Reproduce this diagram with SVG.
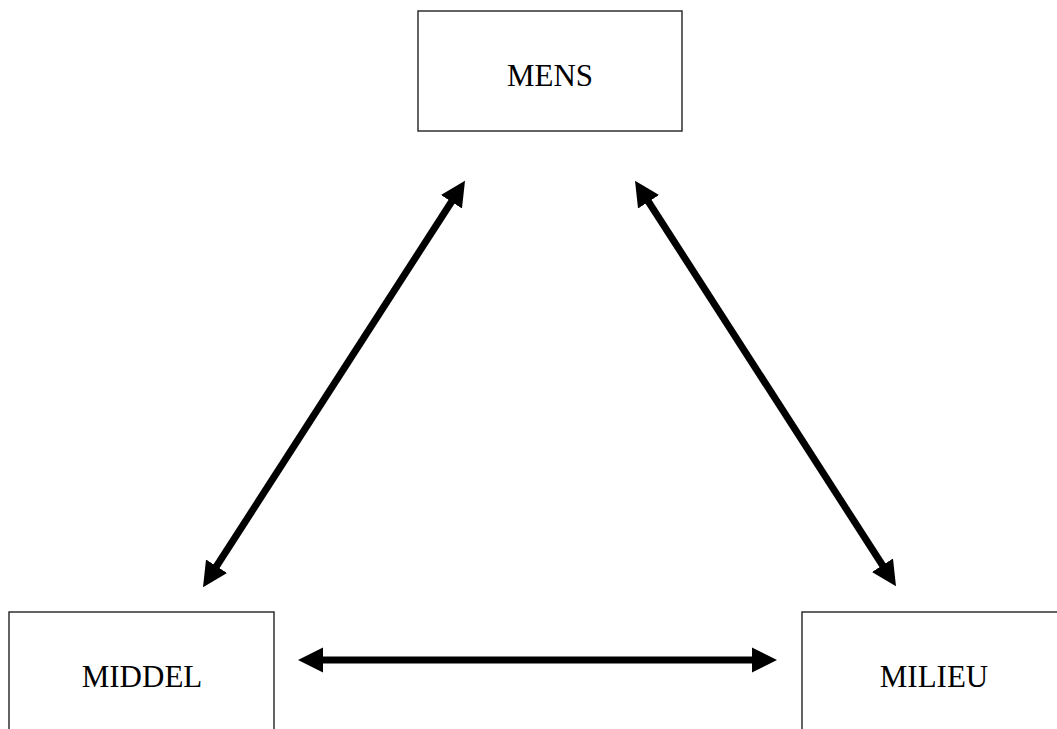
<svg xmlns="http://www.w3.org/2000/svg" width="1057" height="729" viewBox="0 0 1057 729">
  <style>
    .box { fill: #ffffff; stroke: #222222; stroke-width: 1.4; }
    .label { font-family: "Liberation Serif", "Times New Roman", serif; font-size: 31px; fill: #000000; text-anchor: middle; }
    .link { stroke: #000000; stroke-width: 7; fill: none; marker-start: url(#head); marker-end: url(#head); }
  </style>
  <defs>
    <marker id="head" markerUnits="userSpaceOnUse" markerWidth="28" markerHeight="28" viewBox="0 -14 28 28" refX="1" refY="0" orient="auto-start-reverse">
      <path d="M0,-12.5 L25,0 L0,12.5 z" fill="#000000"/>
    </marker>
  </defs>
  <rect width="1057" height="729" fill="#ffffff"/>

  <g id="node-mens">
    <rect class="box" x="418" y="11" width="264" height="120"/>
    <text class="label" x="550" y="86">MENS</text>
  </g>
  <g id="node-middel">
    <rect class="box" x="9" y="612" width="265" height="140"/>
    <text class="label" x="142" y="687">MIDDEL</text>
  </g>
  <g id="node-milieu">
    <rect class="box" x="802" y="612" width="280" height="140"/>
    <text class="label" x="934" y="687">MILIEU</text>
  </g>

  <g id="connectors">
    <line class="link" x1="452" y1="201" x2="216" y2="567"/>
    <line class="link" x1="648" y1="201" x2="883" y2="566"/>
    <line class="link" x1="322" y1="660" x2="753" y2="660"/>
  </g>
</svg>
